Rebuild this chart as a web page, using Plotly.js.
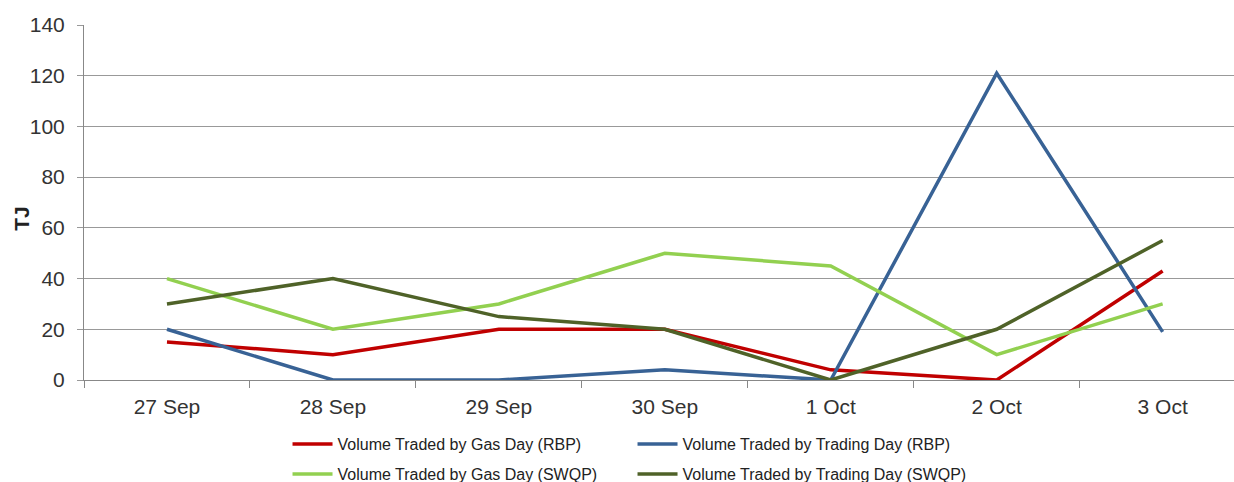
<!DOCTYPE html>
<html>
<head>
<meta charset="utf-8">
<script src="https://cdn.plot.ly/plotly-3.0.1.min.js"></script>
<style>html,body{margin:0;padding:0;background:#fff;}#chart{width:1234px;height:482px;}</style>
</head>
<body>
<div id="chart"></div>
<script>
var categories = ["27 Sep", "28 Sep", "29 Sep", "30 Sep", "1 Oct", "2 Oct", "3 Oct"];
var gasDayRBP = [15, 10, 20, 20, 4, 0, 43];
var tradingDayRBP = [20, 0, 0, 4, 0, 121, 19];
var gasDaySWQP = [40, 20, 30, 50, 45, 10, 30];
var tradingDaySWQP = [30, 40, 25, 20, 0, 20, 55];
var yTicks = [0, 20, 40, 60, 80, 100, 120, 140];
var yTitle = "TJ";

var font = "Arial, 'Liberation Sans', sans-serif";

function tr(name, y, color, legend) {
  return {
    x: categories, y: y, name: name, type: "scatter", mode: "lines",
    line: {color: color, width: 3.5}, legend: legend
  };
}

var data = [
  tr("Volume Traded by Gas Day (RBP)", gasDayRBP, "#C00000", "legend"),
  tr("Volume Traded by Trading Day (RBP)", tradingDayRBP, "#386295", "legend"),
  tr("Volume Traded by Gas Day (SWQP)", gasDaySWQP, "#92D050", "legend2"),
  tr("Volume Traded by Trading Day (SWQP)", tradingDaySWQP, "#4F6228", "legend2")
];

var legendCommon = {
  orientation: "h", xref: "container", yref: "container",
  x: 0.233, xanchor: "left", yanchor: "middle",
  font: {family: font, size: 16, color: "#222"},
  entrywidth: 290, itemwidth: 40, tracegroupgap: 0,
  bgcolor: "rgba(0,0,0,0)"
};

var layout = {
  width: 1234, height: 482,
  margin: {l: 84, r: 0, t: 25, b: 102},
  paper_bgcolor: "#fff", plot_bgcolor: "#fff",
  font: {family: font, color: "#333"},
  xaxis: {
    type: "category", range: [-0.5, 6.43],
    showgrid: false, showline: true, linecolor: "#888", linewidth: 1,
    ticks: "outside", tickson: "boundaries", ticklen: 7, tickcolor: "#888",
    tickfont: {family: font, size: 21, color: "#333"},
    ticklabelstandoff: 8, zeroline: false, automargin: false
  },
  yaxis: {
    range: [0, 140], tickvals: yTicks, ticktext: yTicks.map(String),
    showgrid: true, gridcolor: "#999", gridwidth: 1,
    showline: true, linecolor: "#888", linewidth: 1,
    ticks: "outside", ticklen: 6, tickcolor: "#999",
    tickfont: {family: font, size: 21, color: "#333"},
    ticklabelstandoff: 8, zeroline: false, automargin: false
  },
  annotations: [{
    text: "<b>" + yTitle + "</b>", xref: "paper", yref: "paper",
    x: -0.055, y: 0.456, xanchor: "center", yanchor: "middle",
    textangle: -90, showarrow: false,
    font: {family: font, size: 21, color: "#222"}
  }],
  showlegend: true,
  legend: Object.assign({}, legendCommon, {y: 1 - 444/482}),
  legend2: Object.assign({}, legendCommon, {y: 1 - 474/482})
};

Plotly.newPlot("chart", data, layout, {displayModeBar: false, staticPlot: true});
</script>
</body>
</html>
